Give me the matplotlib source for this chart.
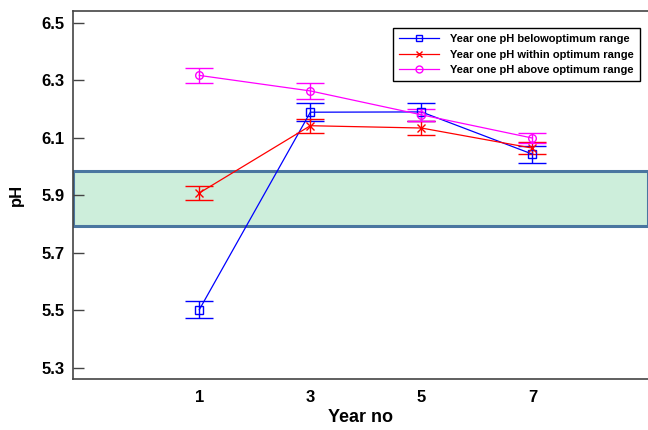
import matplotlib
matplotlib.use("Agg")
import matplotlib.pyplot as plt
from matplotlib.lines import Line2D

plt.rcParams['font.family'] = ['Liberation Sans', 'DejaVu Sans']
plt.rcParams['font.weight'] = 'bold'

# years sampled and mean pH (+/- standard error) per group
years = [1, 3, 5, 7]
below_ph = [5.502, 6.189, 6.190, 6.043]
below_err = [0.030, 0.031, 0.031, 0.029]
within_ph = [5.908, 6.142, 6.134, 6.064]
within_err = [0.024, 0.025, 0.025, 0.021]
above_ph = [6.317, 6.263, 6.180, 6.099]
above_err = [0.026, 0.028, 0.020, 0.018]

series_labels = ["Year one pH belowoptimum range",
                 "Year one pH within optimum range",
                 "Year one pH above optimum range"]
series_colors = ['#0000ff', '#ff0000', '#ff00ff']
series_markers = ['s', 'x', 'o']

optimum_low, optimum_high = 5.792, 5.983
y_ticks = [5.3, 5.5, 5.7, 5.9, 6.1, 6.3, 6.5]

fig = plt.figure(figsize=(6.48, 4.30), dpi=100)
ax = fig.add_axes([73 / 648, 51.3 / 430, 575 / 648, 367.4 / 430])

# optimum pH band
ax.axhspan(optimum_low, optimum_high, facecolor='#cdeedb', edgecolor='#4a76a0',
           linewidth=2.2, zorder=1)

series = [(below_ph, below_err), (within_ph, within_err), (above_ph, above_err)]
handles = []
for (vals, errs), col, mk, lab in zip(series, series_colors, series_markers, series_labels):
    ax.errorbar(years, vals, yerr=errs, color=col, marker=mk, markersize=5.5,
                markerfacecolor='none', linewidth=0.9, elinewidth=1,
                capsize=10, capthick=1, zorder=3)
    handles.append(Line2D([], [], color=col, marker=mk, markersize=5,
                          markerfacecolor='none', linewidth=0.9, label=lab))

ax.set_xlim(-1.274, 9.08)
ax.set_ylim(5.262, 6.54)
ax.set_xticks(years)
ax.set_yticks(y_ticks)
ax.set_yticklabels([f"{v:.1f}" for v in y_ticks])
ax.tick_params(axis='y', direction='in', length=8, width=1, color='#444444',
               labelsize=12, pad=6)
ax.tick_params(axis='x', length=0, labelsize=12, pad=8)
for lab in ax.get_xticklabels() + ax.get_yticklabels():
    lab.set_fontweight('bold')

for side in ['left', 'top', 'bottom']:
    ax.spines[side].set_color('#444444')
    ax.spines[side].set_linewidth(1.2)
ax.spines['right'].set_visible(False)

ax.set_xlabel("Year no", fontsize=13, fontweight='bold', labelpad=3)
ax.set_ylabel("pH", fontsize=12, fontweight='bold')
ax.yaxis.set_label_coords(-0.085, 0.5)

leg = ax.legend(handles=handles, loc='upper right',
                bbox_to_anchor=(640 / 648, 1 - 28 / 430),
                bbox_transform=fig.transFigure, borderaxespad=0,
                fontsize=8, frameon=True, fancybox=False, framealpha=1,
                edgecolor='black', handlelength=3.6, labelspacing=0.5,
                borderpad=0.55, handletextpad=1.0)
leg.get_frame().set_linewidth(1)
for t in leg.get_texts():
    t.set_fontweight('bold')

fig.savefig("out.png", dpi=100)
